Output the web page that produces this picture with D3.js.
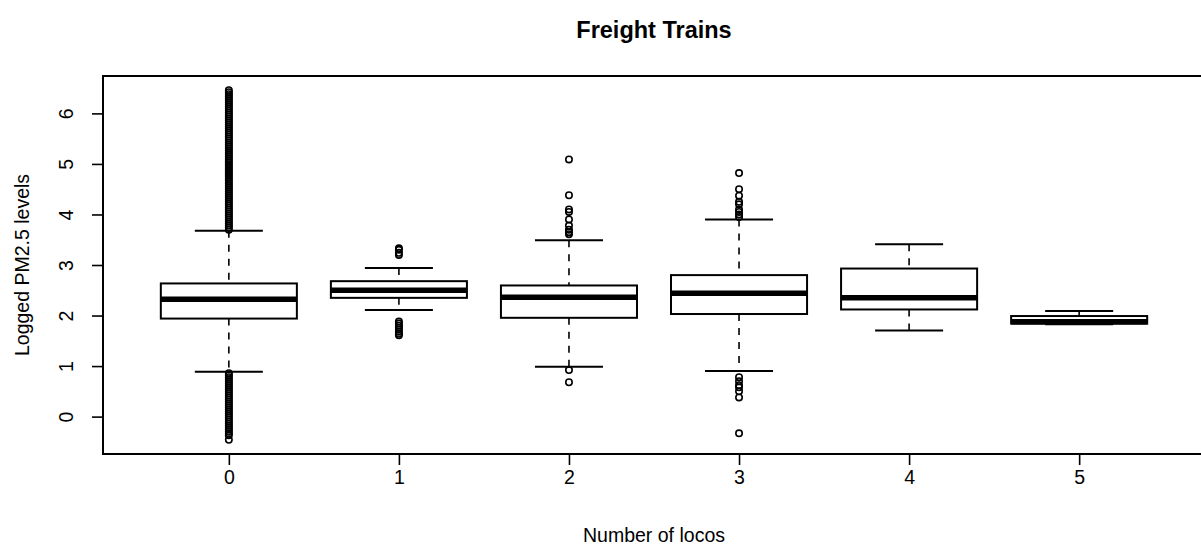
<!DOCTYPE html>
<html>
<head>
<meta charset="utf-8">
<script src="https://cdn.jsdelivr.net/npm/d3@7"></script>
<style>
  html, body { margin: 0; padding: 0; background: #fff; }
  svg { display: block; font-family: "Liberation Sans", Arial, Helvetica, sans-serif; }
</style>
</head>
<body>
<svg id="chart" width="1201" height="551"></svg>
<script>
// Number of locomotives per freight train
const categories = ["0", "1", "2", "3", "4", "5"];

// Five-number summaries of logged PM2.5 (whisker low, Q1, median, Q3, whisker high)
const whiskerLow  = [0.886, 2.11, 0.985, 0.90, 1.705, 1.83];
const quartile1   = [1.94, 2.35, 1.955, 2.03, 2.12, 1.84];
const medians     = [2.32, 2.50, 2.36, 2.44, 2.35, 1.875];
const quartile3   = [2.635, 2.68, 2.595, 2.80, 2.93, 1.99];
const whiskerHigh = [3.68, 2.94, 3.49, 3.90, 3.41, 2.09];

// Outlying observations per group
const outliers0 = [
  3.70, 3.74, 3.78, 3.82, 3.86, 3.90, 3.94, 3.98, 4.02, 4.06, 4.10, 4.14, 4.18, 4.22,
  4.26, 4.30, 4.34, 4.38, 4.42, 4.46, 4.50, 4.54, 4.58, 4.62, 4.66, 4.70, 4.74, 4.78,
  4.82, 4.86, 4.90, 4.94, 4.98, 5.02, 5.06, 5.10, 5.14, 5.18, 5.22, 5.26, 5.30, 5.34,
  5.38, 5.42, 5.46, 5.50, 5.54, 5.58, 5.62, 5.66, 5.70, 5.74, 5.78, 5.82, 5.86, 5.90,
  5.94, 5.98, 6.02, 6.06, 6.10, 6.14, 6.18, 6.22, 6.26, 6.30, 6.34, 6.38, 6.42, 6.46,
  0.86, 0.82, 0.78, 0.74, 0.70, 0.66, 0.62, 0.58, 0.54, 0.50, 0.46, 0.42, 0.38, 0.34,
  0.30, 0.26, 0.22, 0.18, 0.14, 0.10, 0.06, 0.02, -0.02, -0.06, -0.10, -0.14, -0.18,
  -0.22, -0.26, -0.30, -0.34, -0.37, -0.46
];
const outliers1 = [3.20, 3.24, 3.30, 3.33, 1.88, 1.84, 1.80, 1.76, 1.72, 1.68, 1.64, 1.61];
const outliers2 = [5.09, 4.38, 4.10, 4.05, 3.90, 3.78, 3.70, 3.65, 3.61, 0.92, 0.68];
const outliers3 = [4.82, 4.50, 4.37, 4.25, 4.20, 4.10, 4.05, 4.00, 3.95,
                   0.78, 0.70, 0.62, 0.58, 0.50, 0.38, -0.33];
const outliers4 = [];
const outliers5 = [];
const outlierGroups = [outliers0, outliers1, outliers2, outliers3, outliers4, outliers5];

const yTicks = [0, 1, 2, 3, 4, 5, 6];

const titleText = "Freight Trains";
const xTitle = "Number of locos";
const yTitle = "Logged PM2.5 levels";

const svg = d3.select("#chart");
const W = 1201, H = 551;
const plot = { left: 103, top: 76, bottom: 454, right: 1205 };
const axisFont = 19.5, titleFont = 23.5;

svg.append("rect").attr("width", W).attr("height", H).attr("fill", "#fff");

// group positions 1..n on an extended range, as in a base boxplot
const x = d3.scaleLinear().domain([0.26, 6.74]).range([plot.left, plot.right]);
const y = d3.scaleLinear().domain([-0.74, 6.74]).range([plot.bottom, plot.top]);

const boxHalf = (x(1.4) - x(1));
const capHalf = boxHalf / 2;
const ink = "#000";

const groups = categories.map((c, i) => ({
  name: c, pos: i + 1,
  lo: whiskerLow[i], q1: quartile1[i], med: medians[i], q3: quartile3[i], hi: whiskerHigh[i],
  out: outlierGroups[i]
}));

const g = svg.append("g");

const box = g.selectAll("g.box").data(groups).join("g").attr("class", "box");

// dashed whiskers
box.append("line")
  .attr("x1", d => x(d.pos)).attr("x2", d => x(d.pos))
  .attr("y1", d => y(d.hi)).attr("y2", d => y(d.q3))
  .attr("stroke", ink).attr("stroke-width", 1.6).attr("stroke-dasharray", "7,7");
box.append("line")
  .attr("x1", d => x(d.pos)).attr("x2", d => x(d.pos))
  .attr("y1", d => y(d.q1)).attr("y2", d => y(d.lo))
  .attr("stroke", ink).attr("stroke-width", 1.6).attr("stroke-dasharray", "7,7");

// staples
box.append("line")
  .attr("x1", d => x(d.pos) - capHalf).attr("x2", d => x(d.pos) + capHalf)
  .attr("y1", d => y(d.hi)).attr("y2", d => y(d.hi))
  .attr("stroke", ink).attr("stroke-width", 2);
box.append("line")
  .attr("x1", d => x(d.pos) - capHalf).attr("x2", d => x(d.pos) + capHalf)
  .attr("y1", d => y(d.lo)).attr("y2", d => y(d.lo))
  .attr("stroke", ink).attr("stroke-width", 2);

// boxes
box.append("rect")
  .attr("x", d => x(d.pos) - boxHalf).attr("width", 2 * boxHalf)
  .attr("y", d => y(d.q3)).attr("height", d => y(d.q1) - y(d.q3))
  .attr("fill", "#fff").attr("stroke", ink).attr("stroke-width", 2);

// medians
box.append("line")
  .attr("x1", d => x(d.pos) - boxHalf).attr("x2", d => x(d.pos) + boxHalf)
  .attr("y1", d => y(d.med)).attr("y2", d => y(d.med))
  .attr("stroke", ink).attr("stroke-width", 5.5);

// outlier points
box.each(function (d) {
  d3.select(this).selectAll("circle").data(d.out).join("circle")
    .attr("cx", x(d.pos)).attr("cy", v => y(v)).attr("r", 3.2)
    .attr("fill", "none").attr("stroke", ink).attr("stroke-width", 1.6);
});

// frame
svg.append("rect")
  .attr("x", plot.left).attr("y", plot.top)
  .attr("width", plot.right - plot.left).attr("height", plot.bottom - plot.top)
  .attr("fill", "none").attr("stroke", ink).attr("stroke-width", 2);

// y axis
const yAxis = svg.append("g").attr("transform", `translate(${plot.left},0)`)
  .call(d3.axisLeft(y).tickValues(yTicks).tickSize(11).tickFormat(d3.format("d")));
yAxis.select(".domain").remove();
yAxis.selectAll(".tick line").attr("stroke", ink).attr("stroke-width", 1.6);
yAxis.selectAll(".tick text")
  .attr("x", 0).attr("dy", null)
  .attr("transform", "translate(-37,0) rotate(-90)")
  .attr("text-anchor", "middle").attr("dominant-baseline", "central")
  .attr("font-size", axisFont).attr("fill", ink)
  .style("font-family", "Liberation Sans, Arial, sans-serif");

// x axis
const xAxis = svg.append("g").attr("transform", `translate(0,${plot.bottom})`)
  .call(d3.axisBottom(x).tickValues(groups.map(d => d.pos)).tickSize(11)
    .tickFormat((d, i) => categories[i]));
xAxis.select(".domain").remove();
xAxis.selectAll(".tick line").attr("stroke", ink).attr("stroke-width", 1.6);
xAxis.selectAll(".tick text")
  .attr("y", 23).attr("dy", null).attr("dominant-baseline", "central")
  .attr("font-size", axisFont).attr("fill", ink)
  .style("font-family", "Liberation Sans, Arial, sans-serif");

// titles
svg.append("text").attr("x", (plot.left + plot.right) / 2).attr("y", 30)
  .attr("text-anchor", "middle").attr("dominant-baseline", "central")
  .attr("font-size", titleFont).attr("font-weight", "bold").text(titleText);
svg.append("text").attr("x", (plot.left + plot.right) / 2).attr("y", 535)
  .attr("text-anchor", "middle").attr("dominant-baseline", "central")
  .attr("font-size", axisFont).text(xTitle);
svg.append("text")
  .attr("transform", `translate(22,${(plot.top + plot.bottom) / 2}) rotate(-90)`)
  .attr("text-anchor", "middle").attr("dominant-baseline", "central")
  .attr("font-size", axisFont).text(yTitle);
</script>
</body>
</html>
